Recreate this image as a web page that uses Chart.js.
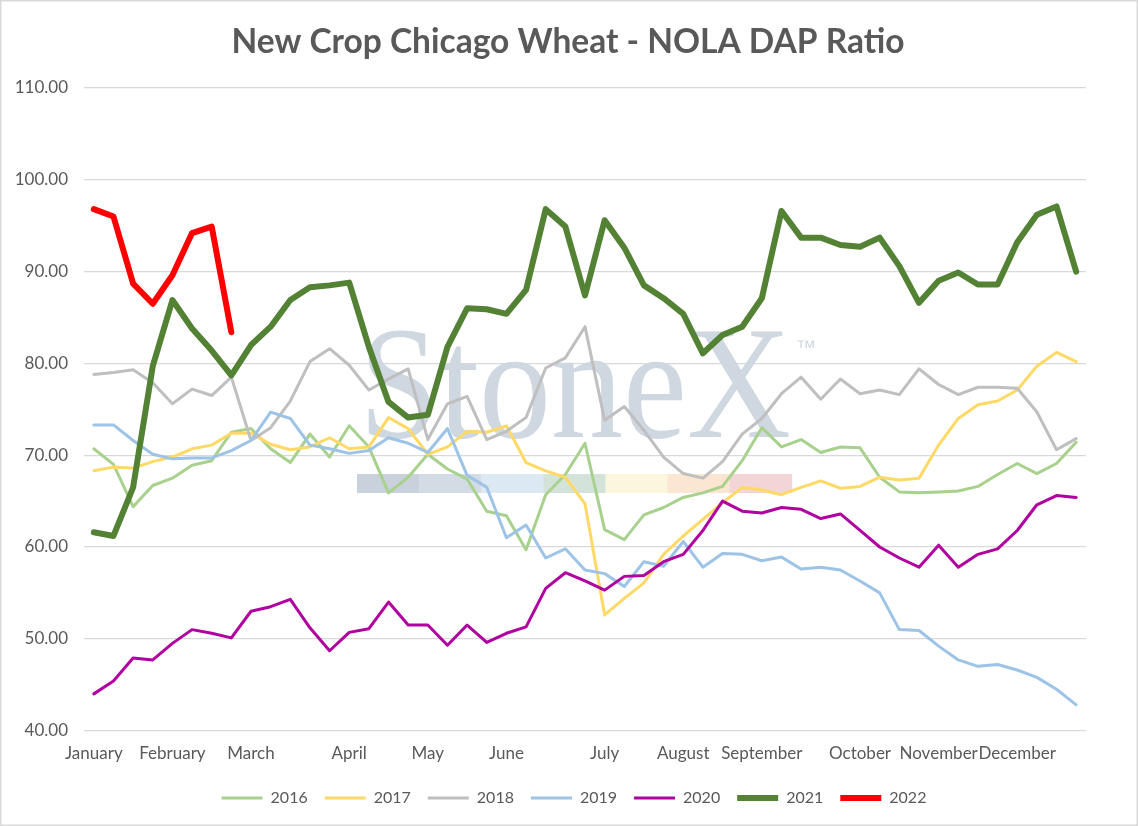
<!DOCTYPE html>
<html>
<head>
<meta charset="utf-8">
<title>New Crop Chicago Wheat - NOLA DAP Ratio</title>
<script src="https://cdn.jsdelivr.net/npm/chart.js@4.4.1/dist/chart.umd.min.js"></script>
<style>
    html, body { margin: 0; padding: 0; background: #ffffff; }
    #chart { display: block; }
</style>
</head>
<body>
<canvas id="chart" width="1138" height="826"></canvas>
<script>
// Semaines de l'année : seul le premier point de chaque mois porte un libellé
const weekLabels = [
    'January', '', '', '',
    'February', '', '', '',
    'March', '', '', '', '',
    'April', '', '', '',
    'May', '', '', '',
    'June', '', '', '', '',
    'July', '', '', '',
    'August', '', '', '',
    'September', '', '', '', '',
    'October', '', '', '',
    'November', '', '', '',
    'December', '', '', '',
];

const yTicks = { min: 40, max: 110, step: 10 };

const ratio2016 = [70.7, 69.0, 64.4, 66.7, 67.5, 68.9, 69.4, 72.5, 72.9, 70.7, 69.2, 72.3, 69.8, 73.2, 70.9, 65.9, 67.6,
    70.1, 68.5, 67.4, 63.9, 63.4, 59.7, 65.7, 67.9, 71.3, 61.9, 60.8, 63.5, 64.3, 65.4, 65.9, 66.6, 69.4,
    73.0, 70.9, 71.7, 70.3, 70.9, 70.8, 67.6, 66.0, 65.9, 66.0, 66.1, 66.6, 67.9, 69.1, 68.0, 69.1, 71.4];
const ratio2017 = [68.3, 68.7, 68.6, 69.3, 69.8, 70.7, 71.1, 72.4, 72.4, 71.2, 70.6, 70.9, 71.9, 70.7, 70.9, 74.1, 72.9,
    70.1, 70.9, 72.6, 72.5, 73.2, 69.2, 68.3, 67.6, 64.7, 52.6, 54.4, 56.1, 59.2, 61.2, 63.0, 64.8, 66.5,
    66.2, 65.7, 66.5, 67.2, 66.4, 66.6, 67.6, 67.3, 67.5, 71.1, 74.0, 75.5, 75.9, 77.1, 79.7, 81.2, 80.2];
const ratio2018 = [78.8, 79.0, 79.3, 77.9, 75.6, 77.2, 76.5, 78.5, 71.6, 73.0, 75.9, 80.2, 81.6, 79.8, 77.1, 78.3, 79.4,
    71.7, 75.6, 76.4, 71.7, 72.6, 74.1, 79.5, 80.6, 84.0, 73.8, 75.3, 72.7, 69.8, 68.0, 67.5, 69.3, 72.3,
    74.0, 76.7, 78.5, 76.1, 78.3, 76.7, 77.1, 76.6, 79.4, 77.7, 76.6, 77.4, 77.4, 77.3, 74.7, 70.6, 71.8];
const ratio2019 = [73.3, 73.3, 71.6, 70.1, 69.6, 69.7, 69.7, 70.5, 71.6, 74.7, 74.0, 71.1, 70.7, 70.2, 70.5, 71.9, 71.3,
    70.3, 72.9, 67.8, 66.5, 61.0, 62.4, 58.8, 59.8, 57.5, 57.1, 55.7, 58.4, 57.9, 60.6, 57.8, 59.3, 59.2,
    58.5, 58.9, 57.6, 57.8, 57.5, 56.3, 55.0, 51.0, 50.9, 49.2, 47.7, 47.0, 47.2, 46.6, 45.8, 44.5, 42.8];
const ratio2020 = [44.0, 45.4, 47.9, 47.7, 49.5, 51.0, 50.6, 50.1, 53.0, 53.5, 54.3, 51.2, 48.7, 50.7, 51.1, 54.0, 51.5,
    51.5, 49.3, 51.5, 49.6, 50.6, 51.3, 55.5, 57.2, 56.3, 55.3, 56.8, 56.9, 58.4, 59.2, 61.8, 65.0, 63.9,
    63.7, 64.3, 64.1, 63.1, 63.6, 61.8, 60.0, 58.8, 57.8, 60.2, 57.8, 59.2, 59.8, 61.8, 64.6, 65.6, 65.4];
const ratio2021 = [61.6, 61.2, 66.5, 79.7, 86.9, 83.8, 81.4, 78.7, 82.0, 84.0, 86.9, 88.3, 88.5, 88.8, 81.8, 75.8, 74.1,
    74.4, 81.8, 86.0, 85.9, 85.4, 88.0, 96.8, 94.9, 87.4, 95.6, 92.6, 88.5, 87.1, 85.4, 81.1, 83.1, 84.0,
    87.1, 96.6, 93.7, 93.7, 92.9, 92.7, 93.7, 90.6, 86.6, 89.0, 89.9, 88.6, 88.6, 93.2, 96.2, 97.1, 90.0];
const ratio2022 = [96.8, 96.0, 88.7, 86.5, 89.6, 94.2, 94.9, 83.4];

const textColor = '#595959';
const fontFamily = 'Lato, "Noto Sans", sans-serif';

// Filigrane StoneX dessiné derrière les courbes
const watermark = {
    id: 'watermark',
    beforeDatasetsDraw(chart) {
        const ctx = chart.ctx;
        ctx.save();
        ctx.fillStyle = '#CFD7E1';
        ctx.font = '162px "Liberation Serif", "DejaVu Serif", serif';
        ctx.textBaseline = 'alphabetic';
        ctx.translate(359, 437);
        const w = ctx.measureText('StoneX').width;
        ctx.scale(432 / w, 1);
        ctx.fillText('StoneX', 0, 0);
        ctx.restore();

        ctx.save();
        ctx.fillStyle = '#CFD7E1';
        ctx.font = '20px "Liberation Sans", sans-serif';
        ctx.textBaseline = 'alphabetic';
        ctx.fillText('\u2122', 796, 354);
        const bands = ['#C9D1DC', '#D3DBE5', '#DCE8F4', '#D3E3DA', '#FBF6DC', '#FBE6D2', '#F3D5D8'];
        const x0 = 357, step = 62.1;
        bands.forEach((c, i) => {
            ctx.fillStyle = c;
            ctx.fillRect(x0 + i * step, 474, step + 0.5, 19);
        });
        ctx.restore();
    },
};

// Titre et légende décalés comme dans l'original (centrés sur la zone Excel, pas sur le canevas)
const blockShift = {
    id: 'blockShift',
    afterLayout(chart) {
        const lg = chart.legend;
        if (lg) {
            lg.left += 31;
            lg.right += 31;
        }
        const tb = chart.titleBlock;
        if (tb) {
            tb.left += 25;
            tb.right += 25;
        }
    },
};

const frame = {
    id: 'frame',
    afterDraw(chart) {
        const ctx = chart.ctx;
        ctx.save();
        ctx.strokeStyle = '#D9D9D9';
        ctx.lineWidth = 1.5;
        ctx.strokeRect(0.75, 0.75, chart.width - 1.5, chart.height - 1.5);
        ctx.restore();
    },
};

function serie(label, data, color, width, order) {
    return {
        label,
        data,
        borderColor: color,
        backgroundColor: color,
        borderWidth: width,
        borderCapStyle: 'round',
        borderJoinStyle: 'round',
        pointRadius: 0,
        pointHoverRadius: 0,
        pointStyle: 'line',
        tension: 0,
        fill: false,
        order,
    };
}

new Chart(document.getElementById('chart'), {
    type: 'line',
    data: {
        labels: weekLabels,
        datasets: [
            serie('2016', ratio2016, '#A9D18E', 3, 6),
            serie('2017', ratio2017, '#FFD966', 3, 5),
            serie('2018', ratio2018, '#BFBFBF', 3, 4),
            serie('2019', ratio2019, '#9DC3E6', 3, 3),
            serie('2020', ratio2020, '#B0009F', 3, 2),
            serie('2021', ratio2021, '#548235', 6, 1),
            serie('2022', ratio2022, '#FF0000', 6, 0),
        ],
    },
    options: {
        responsive: false,
        animation: false,
        layout: { padding: { left: 0, right: 52, top: 0, bottom: 10 } },
        scales: {
            x: {
                offset: true,
                afterFit(scale) { scale.height += 4; },
                grid: { display: false },
                border: { display: false },
                ticks: {
                    autoSkip: false,
                    maxRotation: 0,
                    minRotation: 0,
                    color: textColor,
                    font: { family: fontFamily, size: 17 },
                    padding: 5,
                },
            },
            y: {
                min: yTicks.min,
                max: yTicks.max,
                afterFit(scale) { scale.width = 84; },
                grid: { color: '#D9D9D9', lineWidth: 1.3, drawTicks: false },
                border: { display: false },
                ticks: {
                    stepSize: yTicks.step,
                    callback: (v) => v.toFixed(2),
                    color: textColor,
                    font: { family: fontFamily, size: 17 },
                    padding: 16,
                },
            },
        },
        plugins: {
            title: {
                display: true,
                text: 'New Crop Chicago Wheat - NOLA DAP Ratio',
                color: textColor,
                font: { family: fontFamily, size: 33.5, weight: 'bold' },
                padding: { top: 22, bottom: 25.8 },
            },
            legend: {
                position: 'bottom',
                labels: {
                    usePointStyle: true,
                    pointStyleWidth: 41,
                    color: textColor,
                    font: { family: fontFamily, size: 16 },
                    padding: 17,
                    sort: (a, b) => a.datasetIndex - b.datasetIndex,
                },
            },
            tooltip: { enabled: false },
        },
    },
    plugins: [watermark, blockShift, frame],
});
</script>
</body>
</html>
